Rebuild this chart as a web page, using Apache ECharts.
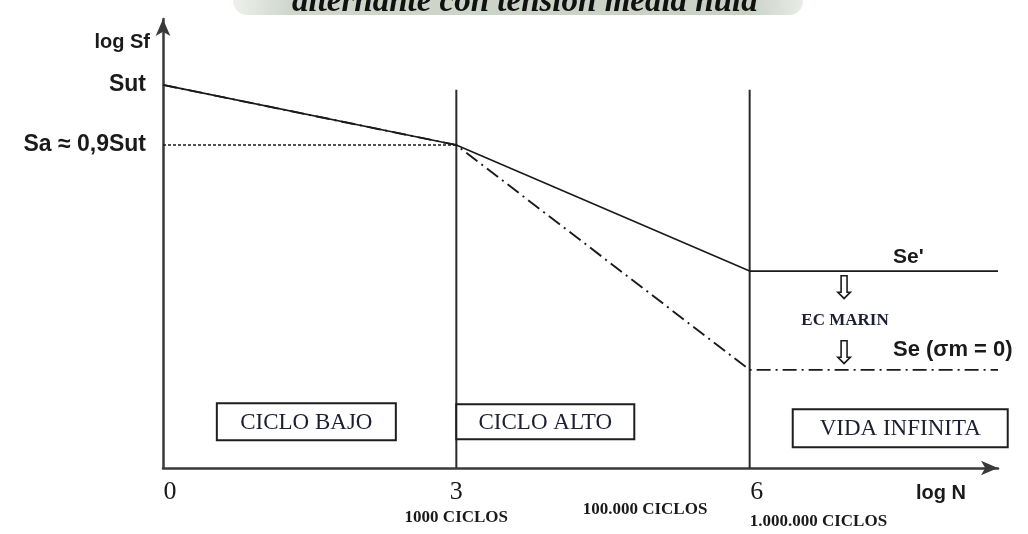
<!DOCTYPE html>
<html>
<head>
<meta charset="utf-8">
<script src="https://cdn.jsdelivr.net/npm/echarts@6/dist/echarts.min.js"></script>
<style>
  html, body { margin: 0; padding: 0; background: #fff; }
  #chart { width: 1028px; height: 534px; }
</style>
</head>
<body>
<div id="chart"></div>
<script>
// S-N (Wöhler) diagram: log Sf against log N, fully reversed loading

// log N breakpoints of both curves
const logN = [0, 3, 6, 8.54];
// log Sf of the unmodified endurance curve (ends at Se')
const sfEndurance = [10, 8.43, 5.14, 5.14];
// log Sf after the Marin factors (ends at Se, σm = 0)
const sfMarin = [10, 8.43, 2.56, 2.56];
// Sa ≈ 0,9Sut reference level, drawn from log N = 0 to 3
const saLevel = 8.43;
const saSpan = [0, 3];
// vertical dividers between the life regimes
const regionDividers = [3, 6];
const dividerTop = 9.87;

// axis ticks
const cycleTicks = [0, 3, 6];
const cycleTickLabels = ['0', '3', '6'];
const stressTicks = [10, 8.43];
const stressTickLabels = ['Sut', 'Sa \u2248 0,9Sut'];

// regime names (centre log N, centre log Sf)
const regimeNames = ['CICLO BAJO', 'CICLO ALTO', 'VIDA INFINITA'];
const regimeCentresN = [1.466, 3.91, 7.54];
const regimeCentresSf = [1.21, 1.21, 1.04];

// cycle counts written under the log N axis
const cycleCountTexts = ['1000 CICLOS', '100.000 CICLOS', '1.000.000 CICLOS'];
const cycleCountN = [3, 4.93, 6];

const INK = '#1a1a1a';
const SERIF = '"Liberation Serif", "DejaVu Serif", serif';
const SANS = '"Liberation Sans", Arial, sans-serif';

const chart = echarts.init(document.getElementById('chart'), null, { renderer: 'canvas' });

const zip = (xs, ys) => xs.map((x, i) => [x, ys[i]]);

const dividerSeries = regionDividers.map(n => ({
  type: 'line',
  data: [[n, 0], [n, dividerTop]],
  symbol: 'none',
  silent: true,
  lineStyle: { color: '#2a2a2a', width: 2 },
  z: 2
}));

// tick digits sit a little to the right of the 0 and 6 positions
const tickRich = {
  d: { fontFamily: SERIF, fontSize: 26, color: INK },
  r: { fontFamily: SERIF, fontSize: 26, color: INK, padding: [0, 0, 0, 14] }
};

chart.setOption({
  animation: false,
  backgroundColor: '#fff',
  grid: { left: 163, right: 30, top: 19, bottom: 66, containLabel: false },
  xAxis: {
    type: 'value',
    min: 0,
    max: 8.54,
    splitLine: { show: false },
    axisTick: { show: false },
    axisLine: {
      show: true,
      onZero: false,
      symbol: ['none', 'arrow'],
      symbolSize: [11, 17],
      lineStyle: { color: '#3a3a3a', width: 2.5 }
    },
    axisLabel: {
      customValues: cycleTicks,
      formatter: v => {
        const t = cycleTickLabels[cycleTicks.indexOf(v)] || '';
        return v === 3 ? '{d|' + t + '}' : '{r|' + t + '}';
      },
      rich: tickRich,
      margin: 11
    }
  },
  yAxis: {
    type: 'value',
    min: 0,
    max: 11.72,
    splitLine: { show: false },
    axisTick: { show: false },
    axisLine: {
      show: true,
      onZero: false,
      symbol: ['none', 'arrow'],
      symbolSize: [11, 17],
      lineStyle: { color: '#3a3a3a', width: 2.5 }
    },
    axisLabel: {
      customValues: stressTicks,
      formatter: v => stressTickLabels[stressTicks.indexOf(v)] || '',
      margin: 17,
      color: INK,
      fontFamily: SANS,
      fontWeight: 'bold',
      fontSize: 23
    }
  },
  series: [
    {
      name: 'Sa',
      type: 'line',
      data: zip(saSpan, saSpan.map(() => saLevel)),
      symbol: 'none',
      lineStyle: { color: INK, width: 1.6, type: [3, 2] },
      z: 3
    },
    ...dividerSeries,
    {
      name: "Se'",
      type: 'line',
      data: zip(logN, sfEndurance),
      symbol: 'none',
      lineStyle: { color: INK, width: 1.6 },
      z: 4
    },
    {
      name: 'Se',
      type: 'line',
      data: zip(logN, sfMarin),
      symbol: 'none',
      lineStyle: { color: INK, width: 1.9, type: [14, 5, 2, 5] },
      z: 4
    }
  ]
});

// annotations placed through the grid's coordinate system
const px = (n, sf) => chart.convertToPixel({ gridIndex: 0 }, [n, sf]);
const graphics = [];

// banner at the top edge
graphics.push({
  type: 'rect',
  shape: { x: 233, y: -16, width: 570, height: 31, r: 14 },
  style: {
    fill: new echarts.graphic.LinearGradient(0, 0, 1, 0, [
      { offset: 0, color: '#eef1ec' },
      { offset: 0.1, color: '#cfd6ca' },
      { offset: 0.9, color: '#c9d1c4' },
      { offset: 1, color: '#e8ece6' }
    ])
  },
  silent: true,
  z: 10
});
graphics.push({
  type: 'text',
  x: 292,
  y: 19,
  style: {
    text: 'alternante con tensión media nula',
    font: 'italic bold 33px ' + SERIF,
    fill: '#111',
    verticalAlign: 'bottom',
    align: 'left'
  },
  silent: true,
  z: 11
});

// y-axis name
const origin = px(0, 0);
graphics.push({
  type: 'text',
  x: origin[0] - 13,
  y: 42,
  style: { text: 'log Sf', font: 'bold 20px ' + SANS, fill: INK, align: 'right', verticalAlign: 'middle' },
  silent: true
});
// x-axis name
graphics.push({
  type: 'text',
  x: 941,
  y: origin[1] + 25,
  style: { text: 'log N', font: 'bold 20px ' + SANS, fill: INK, align: 'center', verticalAlign: 'middle' },
  silent: true
});

// cycle counts
cycleCountTexts.forEach((t, i) => {
  const p = px(cycleCountN[i], 0);
  const isLast = i === cycleCountTexts.length - 1;
  const dy = i === 1 ? 42 : (isLast ? 54 : 50);
  graphics.push({
    type: 'text',
    x: p[0],
    y: p[1] + dy,
    style: {
      text: t,
      font: 'bold 17px ' + SERIF,
      fill: INK,
      align: isLast ? 'left' : 'center',
      verticalAlign: 'middle'
    },
    silent: true
  });
});

// regime boxes
const boxSizes = [[179, 37], [178, 35], [215, 38]];
regimeNames.forEach((name, i) => {
  const c = px(regimeCentresN[i], regimeCentresSf[i]);
  const [w, h] = boxSizes[i];
  graphics.push({
    type: 'rect',
    shape: { x: c[0] - w / 2, y: c[1] - h / 2, width: w, height: h },
    style: { fill: '#fff', stroke: '#1e1e1e', lineWidth: 2 },
    silent: true,
    z: 5
  });
  graphics.push({
    type: 'text',
    x: c[0],
    y: c[1] + 1,
    style: { text: name, font: '23px ' + SERIF, fill: '#1c1f33', align: 'center', verticalAlign: 'middle' },
    silent: true,
    z: 6
  });
});

// endurance limit labels and the Marin step
const sePrime = px(6, sfEndurance[2]);
const seMarin = px(6, sfMarin[2]);
graphics.push({
  type: 'text',
  x: 893,
  y: sePrime[1] - 14,
  style: { text: "Se'", font: 'bold 21px ' + SANS, fill: INK, align: 'left', verticalAlign: 'middle' },
  silent: true
});
graphics.push({
  type: 'text',
  x: 893,
  y: seMarin[1] - 20,
  style: { text: 'Se (\u03c3m = 0)', font: 'bold 22px ' + SANS, fill: INK, align: 'left', verticalAlign: 'middle' },
  silent: true
});
graphics.push({
  type: 'text',
  x: 845,
  y: (sePrime[1] + seMarin[1]) / 2,
  style: { text: 'EC MARIN', font: 'bold 17px ' + SERIF, fill: '#1c1f33', align: 'center', verticalAlign: 'middle' },
  silent: true
});
[sePrime[1] + 19, seMarin[1] - 15].forEach(y => {
  graphics.push({
    type: 'text',
    x: 844,
    y: y,
    style: { text: '\u21e9', font: '33px "DejaVu Sans", sans-serif', fill: INK, align: 'center', verticalAlign: 'middle' },
    silent: true
  });
});

chart.setOption({ graphic: graphics });
</script>
</body>
</html>
